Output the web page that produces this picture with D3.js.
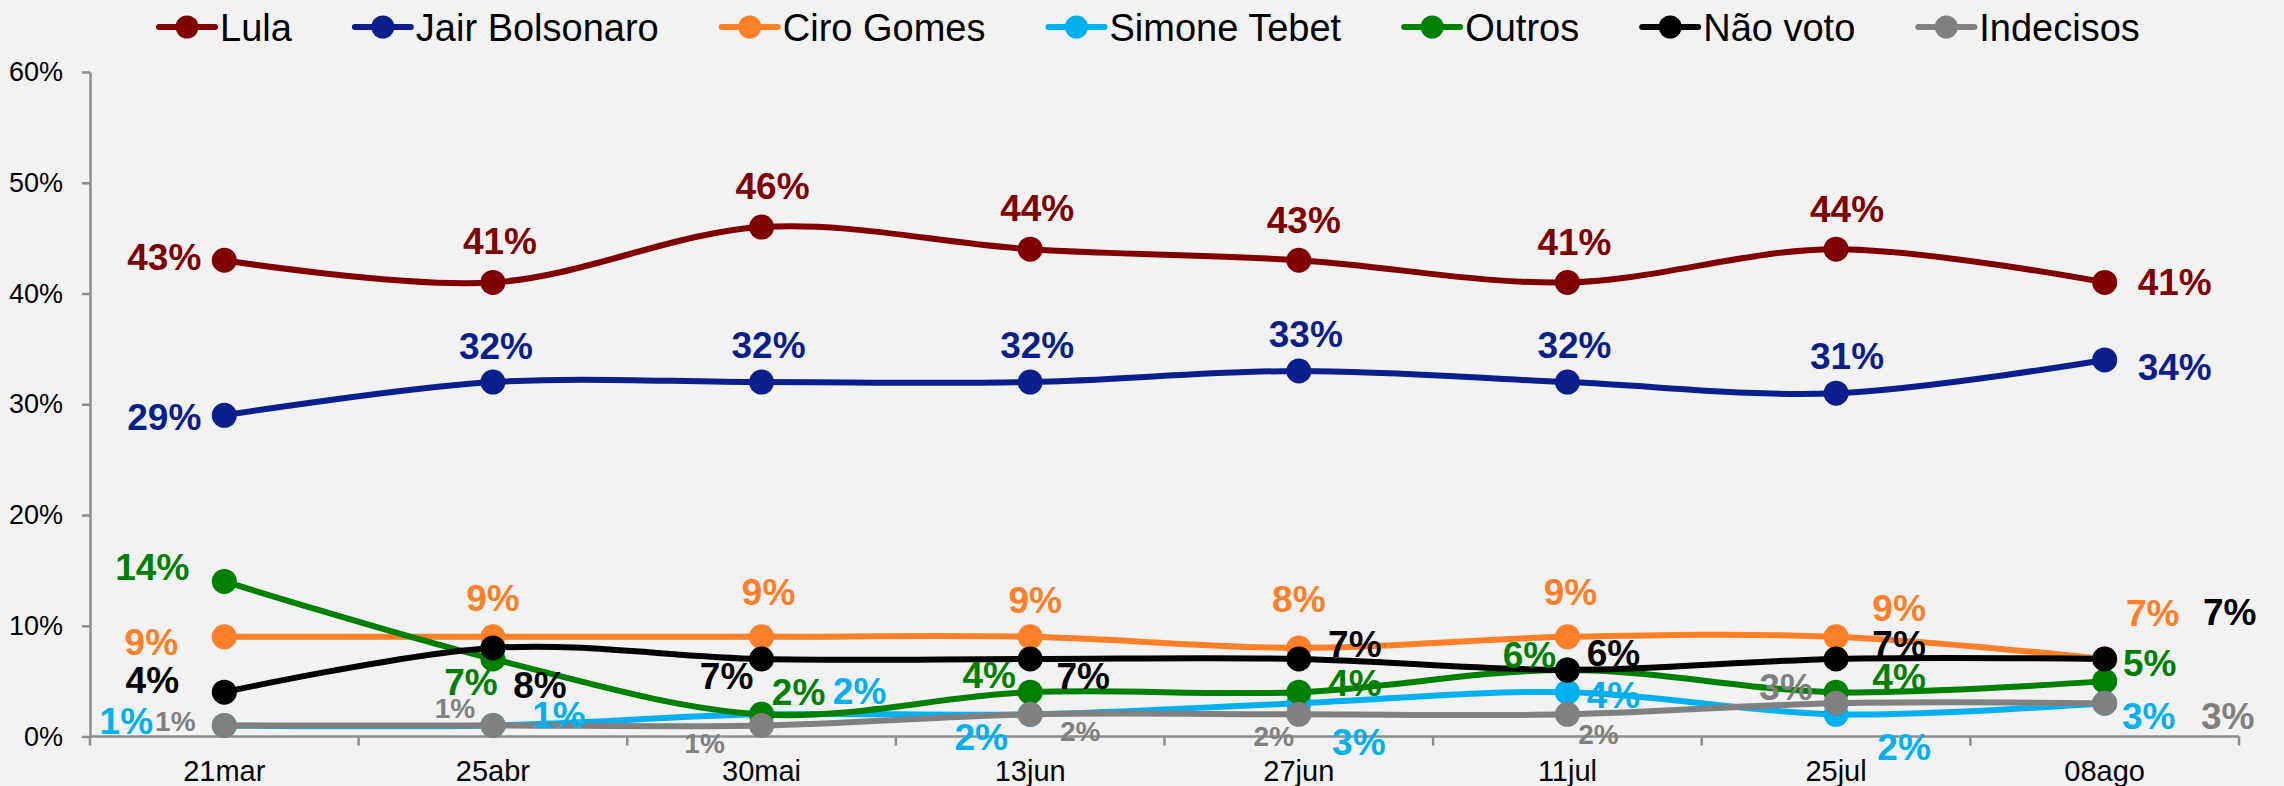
<!DOCTYPE html>
<html>
<head>
<meta charset="utf-8">
<script src="https://cdn.jsdelivr.net/npm/d3@7"></script>
<style>
  html, body { margin: 0; padding: 0; background: #f2f2f2; }
  svg { display: block; font-family: 'Liberation Sans', Arial, sans-serif; }
</style>
</head>
<body>
<svg id="chart" width="2284" height="786"></svg>
<script>
// poll dates
const dates = ['21mar', '25abr', '30mai', '13jun', '27jun', '11jul', '25jul', '08ago'];

// series values (%)
const lula = [43, 41, 46, 44, 43, 41, 44, 41];
const bolsonaro = [29, 32, 32, 32, 33, 32, 31, 34];
const ciro = [9, 9, 9, 9, 8, 9, 9, 7];
const simone = [1, 1, 2, 2, 3, 4, 2, 3];
const outros = [14, 7, 2, 4, 4, 6, 4, 5];
const naoVoto = [4, 8, 7, 7, 7, 6, 7, 7];
const indecisos = [1, 1, 1, 2, 2, 2, 3, 3];

const seriesNames = ['Lula', 'Jair Bolsonaro', 'Ciro Gomes', 'Simone Tebet', 'Outros', 'Não voto', 'Indecisos'];
const seriesValues = [lula, bolsonaro, ciro, simone, outros, naoVoto, indecisos];
const seriesColors = ['#800000', '#0a1e8c', '#fd7f28', '#00b0f0', '#008000', '#000000', '#808080'];

const yTicks = [0, 10, 20, 30, 40, 50, 60];

// label placement relative to each point: [dx, dy] of the label centre
const labelOffsets = [
  [[-60, -4], [7, -42], [11, -41], [7, -41], [5, -41], [7, -41], [11, -40], [70, -1]],
  [[-60, 1], [3, -36], [7, -37], [7, -37], [7, -37], [7, -37], [11, -37], [70, 7]],
  [[-73, 5], [0, -39], [7, -45], [5, -37], [0, -49], [3, -45], [63, -29], [48, -46]],
  [[-98, -5], [66, -11], [98, -24], [-49, 22], [60, 38], [46, 3], [68, 32], [44, 12]],
  [[-72, -15], [-22, 23], [37, -23], [-41, -17], [56, -9], [-38, -15], [63, -15], [45, -18]],
  [[-72, -12], [47, 37], [-35, 17], [53, 17], [56, -15], [46, -17], [63, -15], [125, -47]],
  [[-49, -4], [-38, -17], [-57, 18], [50, 17], [-25, 22], [31, 20], [-50, -17], [123, 12]],
];
// Indecisos labels are smaller except the last two
const labelSizes = seriesNames.map((n, i) =>
  i === 6 ? [28, 28, 28, 28, 28, 28, 37, 37] : dates.map(() => 37));

const svg = d3.select('#chart');

const x = d3.scaleBand().domain(dates).range([90, 2239]);
const y = d3.scaleLinear().domain([0, 60]).range([736.5, 72]);
const cx = (d) => x(d) + x.bandwidth() / 2;

const axisColor = '#8c8c8c';

// y axis
const yAxis = svg.append('g')
  .attr('transform', 'translate(90,0)')
  .call(d3.axisLeft(y).tickValues(yTicks).tickFormat((d) => d + '%').tickSize(8).tickSizeOuter(0));
yAxis.select('.domain').attr('stroke', axisColor).attr('stroke-width', 2.5);
yAxis.selectAll('.tick line').attr('stroke', axisColor).attr('stroke-width', 2.5);
yAxis.selectAll('.tick text')
  .attr('x', -27)
  .attr('fill', '#000')
  .attr('font-size', 27)
  .attr('font-family', "'Liberation Sans', Arial, sans-serif");

// x axis
const xAxis = svg.append('g');
xAxis.append('line')
  .attr('x1', x.range()[0]).attr('x2', x.range()[1])
  .attr('y1', y(0)).attr('y2', y(0))
  .attr('stroke', axisColor).attr('stroke-width', 2.5);
const edges = dates.map((d) => x(d)).concat([x.range()[1]]);
xAxis.selectAll('line.tk')
  .data(edges)
  .join('line')
  .attr('class', 'tk')
  .attr('x1', (d) => d).attr('x2', (d) => d)
  .attr('y1', y(0)).attr('y2', y(0) + 9)
  .attr('stroke', axisColor).attr('stroke-width', 2.5);
xAxis.selectAll('text')
  .data(dates)
  .join('text')
  .attr('x', (d) => cx(d))
  .attr('y', 781)
  .attr('text-anchor', 'middle')
  .attr('font-size', 29)
  .text((d) => d);

// lines, markers
const line = d3.line()
  .x((d, i) => cx(dates[i]))
  .y((d) => y(d))
  .curve(d3.curveCardinal.tension(0));

seriesValues.forEach((vals, s) => {
  const g = svg.append('g');
  g.append('path')
    .datum(vals)
    .attr('d', line)
    .attr('fill', 'none')
    .attr('stroke', seriesColors[s])
    .attr('stroke-width', 6)
    .attr('stroke-linejoin', 'round');
  g.selectAll('circle')
    .data(vals)
    .join('circle')
    .attr('cx', (d, i) => cx(dates[i]))
    .attr('cy', (d) => y(d))
    .attr('r', 12.5)
    .attr('fill', seriesColors[s]);
});

// data labels
seriesValues.forEach((vals, s) => {
  svg.append('g')
    .selectAll('text')
    .data(vals)
    .join('text')
    .attr('x', (d, i) => cx(dates[i]) + labelOffsets[s][i][0])
    .attr('y', (d, i) => y(d) + labelOffsets[s][i][1] + 0.358 * labelSizes[s][i])
    .attr('text-anchor', 'middle')
    .attr('font-size', (d, i) => labelSizes[s][i])
    .attr('font-weight', 'bold')
    .attr('fill', seriesColors[s])
    .text((d) => d + '%');
});

// legend
const legend = svg.append('g');
let lx = 159;
seriesNames.forEach((name, s) => {
  const item = legend.append('g').attr('transform', `translate(${lx},0)`);
  item.append('line')
    .attr('x1', 0).attr('x2', 56)
    .attr('y1', 27).attr('y2', 27)
    .attr('stroke', seriesColors[s])
    .attr('stroke-width', 6)
    .attr('stroke-linecap', 'round');
  item.append('circle')
    .attr('cx', 28).attr('cy', 27).attr('r', 11.5)
    .attr('fill', seriesColors[s]);
  const t = item.append('text')
    .attr('x', 61)
    .attr('y', 41)
    .attr('font-size', 38)
    .attr('fill', '#000')
    .text(name);
  lx += 61 + t.node().getComputedTextLength() + 63;
});
</script>
</body>
</html>
